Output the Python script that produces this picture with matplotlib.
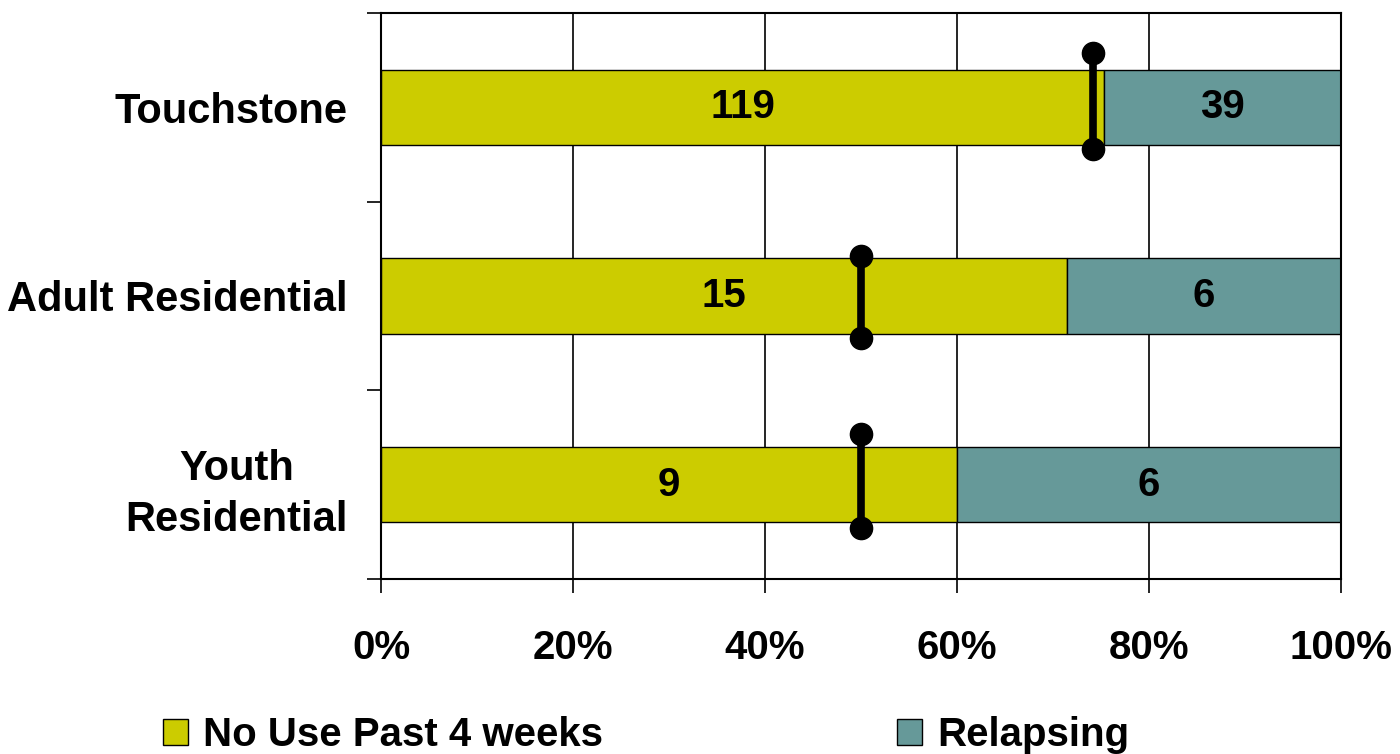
import matplotlib.pyplot as plt
from matplotlib.patches import Patch
import numpy as np

plt.rcParams['font.family'] = ['Liberation Sans', 'DejaVu Sans']
plt.rcParams['font.weight'] = 'bold'

categorias = ['Touchstone', 'Adult Residential', 'Youth\nResidential']
no_use = [119, 15, 9]
relapsing = [39, 6, 6]
# marcador (referencia) en fraccion, y extremos de la linea vertical
ref_x = [0.742, 0.50, 0.50]
ref_top = [-0.29, -0.21, -0.27]
ref_bot = [0.22, 0.22, 0.23]

amarillo = '#CCCC00'
verde = '#669999'

no_use = np.array(no_use, dtype=float)
relapsing = np.array(relapsing, dtype=float)
total = no_use + relapsing
p1 = no_use / total
p2 = relapsing / total
y = np.arange(len(categorias))

fig = plt.figure(figsize=(14, 7.54), dpi=100)
ax = fig.add_axes([381 / 1400, 1 - 579 / 754, 960 / 1400, 566 / 754])

ax.barh(y, p1, height=0.4, color=amarillo, edgecolor='black', linewidth=1, zorder=2)
ax.barh(y, p2, left=p1, height=0.4, color=verde, edgecolor='black', linewidth=1, zorder=2)

for i in range(len(y)):
    ax.text(p1[i] / 2, y[i], f'{int(no_use[i])}', ha='center', va='center',
            fontsize=29, fontweight='bold', zorder=4)
    ax.text(p1[i] + p2[i] / 2, y[i], f'{int(relapsing[i])}', ha='center', va='center',
            fontsize=29, fontweight='bold', zorder=4)
    ax.plot([ref_x[i], ref_x[i]], [y[i] + ref_top[i], y[i] + ref_bot[i]], color='black',
            lw=5.5, marker='o', markersize=16, zorder=5, solid_capstyle='butt')

ax.set_xlim(0, 1)
ax.set_ylim(2.5, -0.5)
ax.set_xticks(np.arange(0, 1.01, 0.2))
ax.set_xticklabels([f'{int(round(v * 100))}%' for v in np.arange(0, 1.01, 0.2)])
ax.set_yticks(y)
ax.set_yticklabels(categorias)
ax.set_yticks([-0.5, 0.5, 1.5, 2.5], minor=True)
for lab in ax.get_yticklabels():
    lab.set_multialignment('center')
    lab.set_linespacing(1.35)

ax.tick_params(axis='y', which='major', length=0, pad=24, labelsize=30)
ax.tick_params(axis='y', which='minor', length=10, width=1.2, direction='out')
ax.tick_params(axis='x', length=10, width=1.2, direction='out', pad=26, labelsize=29)

ax.grid(axis='x', color='black', linewidth=1.2, zorder=0)
ax.set_axisbelow(True)
for s in ax.spines.values():
    s.set_linewidth(1.5)
    s.set_color('black')

handles = [Patch(facecolor=amarillo, edgecolor='black', linewidth=1, label='No Use Past 4 weeks'),
           Patch(facecolor=verde, edgecolor='black', linewidth=1, label='Relapsing')]
fig.legend(handles=handles, loc='lower left', bbox_to_anchor=(163 / 1400, 0), ncol=2,
           frameon=False, fontsize=29, handlelength=0.62, handleheight=0.62, handletextpad=0.37,
           columnspacing=7.3, borderpad=0, borderaxespad=0)

plt.savefig('out.png', dpi=100)
